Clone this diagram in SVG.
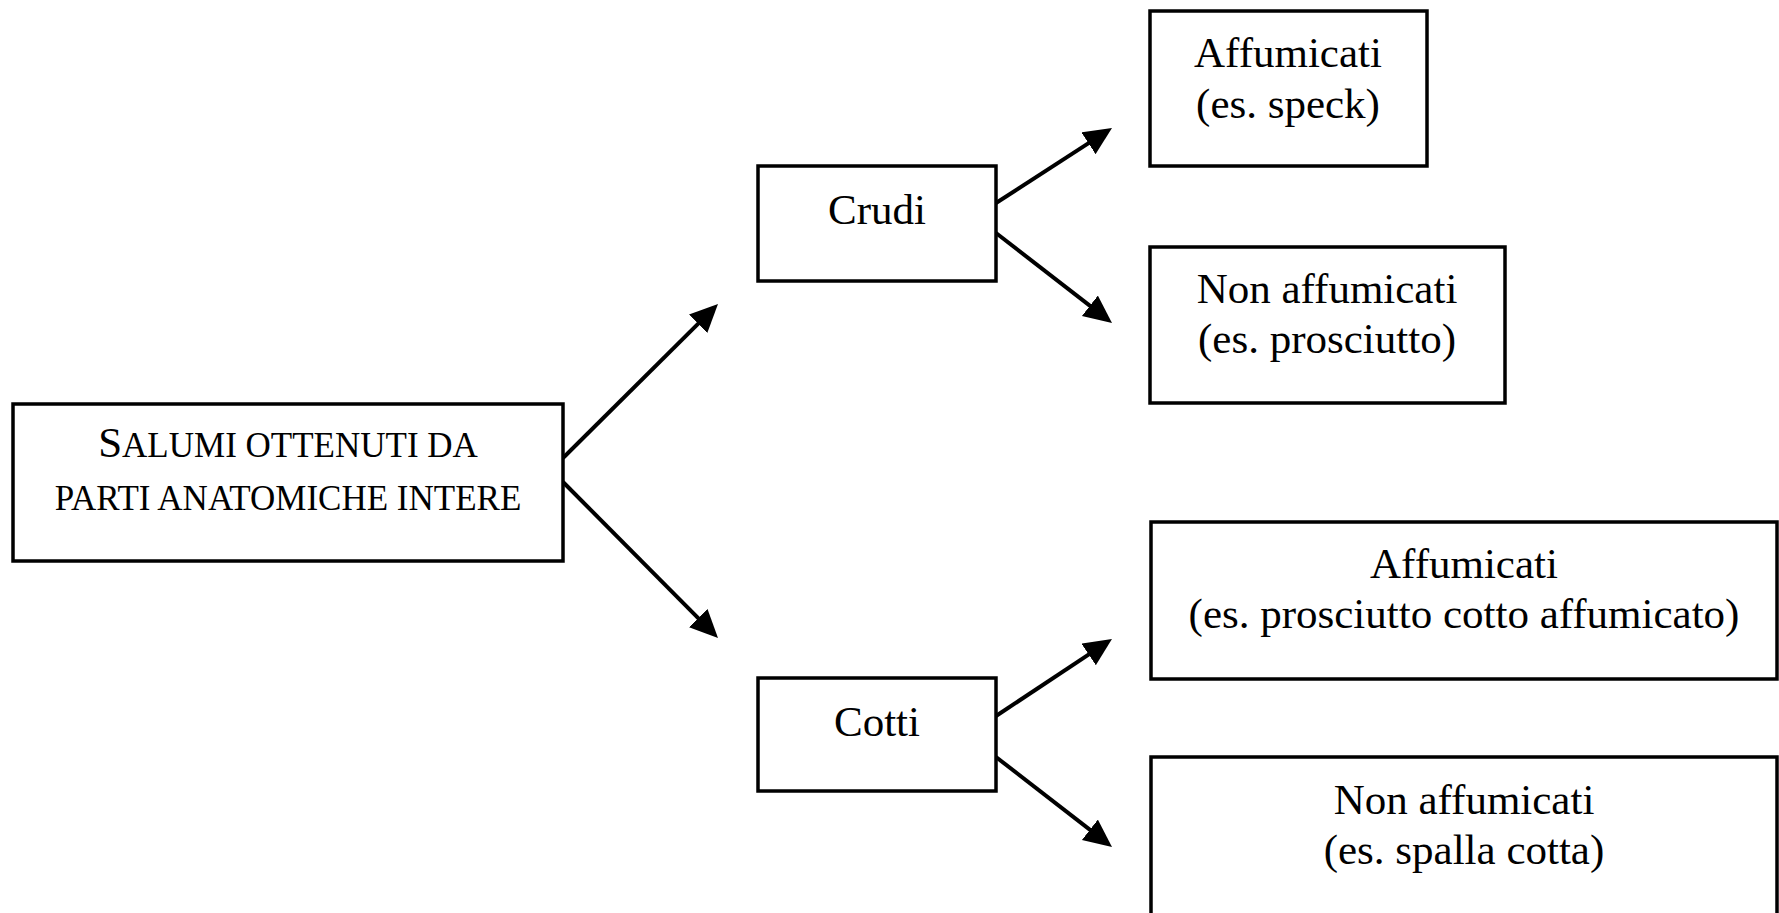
<svg xmlns="http://www.w3.org/2000/svg" width="1779" height="913" viewBox="0 0 1779 913">
<style>
.box{fill:#fff;stroke:#000;stroke-width:3.5}
.t{font-family:"Liberation Serif","Times New Roman",serif;font-size:43px;fill:#000;text-anchor:middle}
.sc{font-size:35px}
.c{stroke:#000;stroke-width:4;fill:none;marker-end:url(#ah)}
</style>
<defs>
<marker id="ah" markerUnits="userSpaceOnUse" markerWidth="30" markerHeight="28" refX="8" refY="13" orient="auto">
<path d="M0,0 L28,13 L0,26 z" fill="#000"/>
</marker>
</defs>
<rect width="1779" height="913" fill="#fff"/>
<g id="connectors">
<line class="c" x1="563" y1="458" x2="703.8" y2="318.1"/>
<line class="c" x1="563" y1="482" x2="703.9" y2="623.8"/>
<line class="c" x1="996" y1="203" x2="1095.2" y2="138.9"/>
<line class="c" x1="996" y1="233" x2="1096.2" y2="310.7"/>
<line class="c" x1="996" y1="716" x2="1095.3" y2="650.1"/>
<line class="c" x1="996" y1="757" x2="1096.2" y2="834.7"/>
</g>
<g id="root">
<rect class="box" x="13" y="404" width="550" height="157"/>
<text class="t" x="288" y="457">S<tspan class="sc">ALUMI OTTENUTI DA</tspan></text>
<text class="t sc" x="288" y="510">PARTI ANATOMICHE INTERE</text>
</g>
<g id="crudi">
<rect class="box" x="758" y="166" width="238" height="115"/>
<text class="t" x="877" y="224">Crudi</text>
</g>
<g id="cotti">
<rect class="box" x="758" y="678" width="238" height="113"/>
<text class="t" x="877" y="736">Cotti</text>
</g>
<g id="crudi-affumicati">
<rect class="box" x="1150" y="11" width="277" height="155"/>
<text class="t" x="1288" y="67">Affumicati</text>
<text class="t" x="1288" y="118">(es. speck)</text>
</g>
<g id="crudi-non-affumicati">
<rect class="box" x="1150" y="247" width="355" height="156"/>
<text class="t" x="1327" y="303">Non affumicati</text>
<text class="t" x="1327" y="353">(es. prosciutto)</text>
</g>
<g id="cotti-affumicati">
<rect class="box" x="1151" y="522" width="626" height="157"/>
<text class="t" x="1464" y="578">Affumicati</text>
<text class="t" x="1464" y="628">(es. prosciutto cotto affumicato)</text>
</g>
<g id="cotti-non-affumicati">
<rect class="box" x="1151" y="757" width="626" height="160"/>
<text class="t" x="1464" y="814">Non affumicati</text>
<text class="t" x="1464" y="864">(es. spalla cotta)</text>
</g>
</svg>
